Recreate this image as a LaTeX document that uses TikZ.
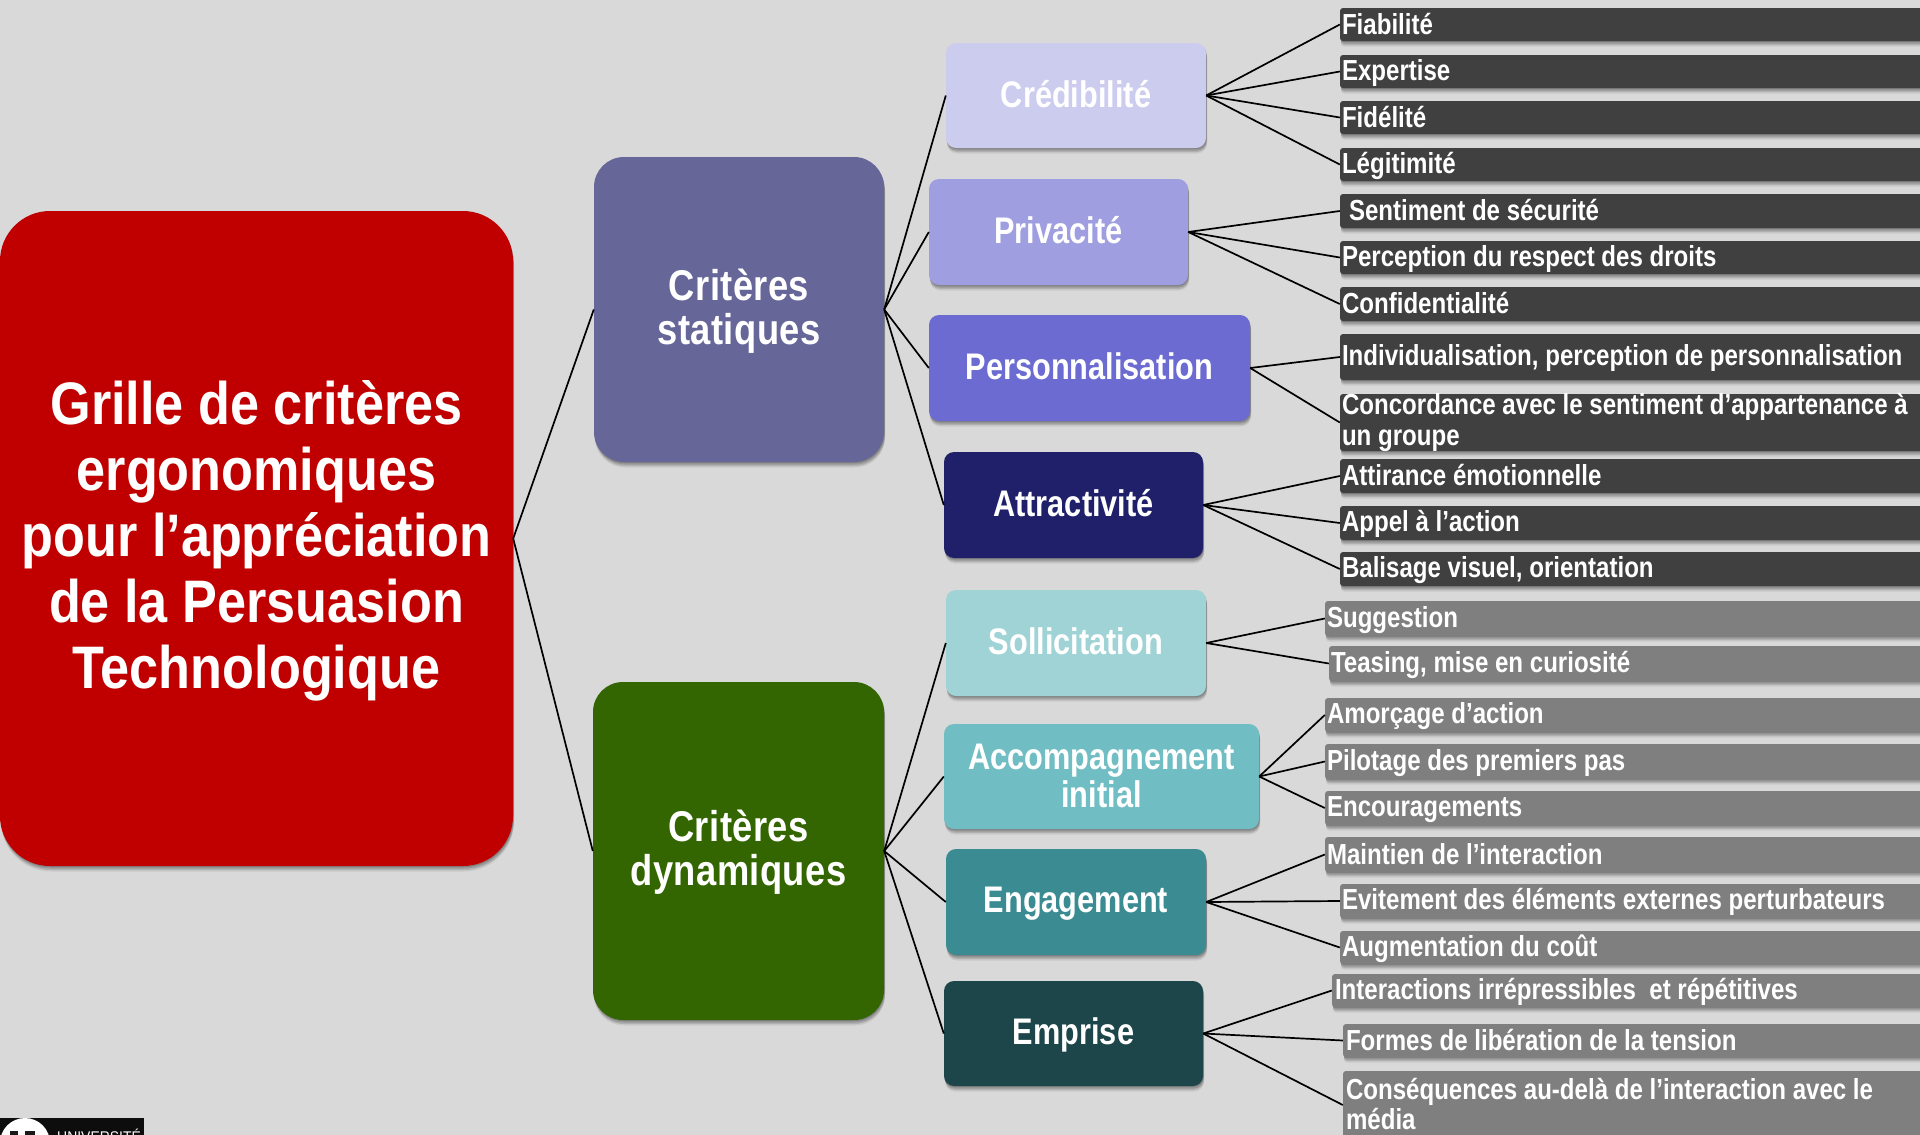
\documentclass[tikz,border=0pt]{standalone}
\usepackage{fontspec}
\setmainfont{Liberation Sans}
\newfontfamily\ftitle[FakeStretch=0.87]{Liberation Sans Bold}
\newfontfamily\fgroup[FakeStretch=0.845,LetterSpace=1.0]{Liberation Sans Bold}
\newfontfamily\fcrit[FakeStretch=0.83]{Liberation Sans Bold}
\newfontfamily\fbar[FakeStretch=0.83]{Liberation Sans Bold}
\newfontfamily\flogo[FakeStretch=0.9]{Liberation Sans}
\usetikzlibrary{shadows}
\definecolor{bgc}{HTML}{D9D9D9}
\definecolor{rootc}{HTML}{C00000}
\definecolor{statc}{HTML}{666699}
\definecolor{dync}{HTML}{336600}
\definecolor{cA}{HTML}{CCCCEE}
\definecolor{cB}{HTML}{9E9EE0}
\definecolor{cC}{HTML}{6B6BD1}
\definecolor{cD}{HTML}{20206A}
\definecolor{cE}{HTML}{9FD3D6}
\definecolor{cF}{HTML}{70BEC4}
\definecolor{cG}{HTML}{3A8C92}
\definecolor{cH}{HTML}{1C4649}
\definecolor{barD}{HTML}{404040}
\definecolor{barL}{HTML}{7F7F7F}
\tikzset{
  softshadow/.style={
    general shadow={shadow yshift=-1pt,shadow xshift=.5pt,fill=black,opacity=.14},
    general shadow={shadow yshift=-2.5pt,shadow xshift=.8pt,fill=black,opacity=.14},
    general shadow={shadow yshift=-4pt,shadow xshift=1pt,fill=black,opacity=.12},
    general shadow={shadow yshift=-5.5pt,shadow xshift=1pt,fill=black,opacity=.07}},
  box/.style={softshadow,text=white,inner sep=0pt},
  rootbox/.style={box,fill=rootc,rounded corners=50pt,font=\ftitle\fontsize{60}{66}\selectfont\def\st{\rule[-8.5pt]{0pt}{57.5pt}}},
  groupbox/.style={box,rounded corners=30pt,font=\fgroup\fontsize{43}{44}\selectfont\def\st{\rule[-4pt]{0pt}{38.4pt}}},
  critbox/.style={box,rounded corners=10pt,font=\fcrit\fontsize{37}{38}\selectfont\def\st{\rule[-5.2pt]{0pt}{34pt}}},
  barbox/.style={box,rounded corners=3pt,font=\fbar\fontsize{29}{30.5}\selectfont\def\st{\rule[-4.3pt]{0pt}{28pt}}},
  dbar/.style={barbox,fill=barD},
  lbar/.style={barbox,fill=barL},
  link/.style={draw=black,line width=1.7pt},
}
% name, x1, y1, x2, y2, style, text
\newcommand\bx[7]{\node[#6] (#1) at ({(#2+#4)/2},{(#3+#5)/2}) {\parbox[c][\dimexpr#5pt-#3pt\relax][c]{\dimexpr#4pt-#2pt\relax}{\centering\st #7}};}
% name, x1, y1, y2, inset, style, text  (bar running off the right edge)
\newcommand\br[7]{\node[#6] (#1) at ({(#2+1940)/2},{(#3+#4)/2}) {\parbox[c][\dimexpr#4pt-#3pt\relax][c]{\dimexpr1940pt-#2pt\relax}{\raggedright\leftskip=#5pt\st #7}};}
\begin{document}
\begin{tikzpicture}[x=1pt,y=-1pt]
\useasboundingbox (0,0) rectangle (1920,1135);
\clip (0,0) rectangle (1920,1135);
\fill[bgc] (0,0) rectangle (1920,1135);
% level 0 and 1
\bx{root}{0}{211}{513}{866}{rootbox}{Grille de critères\\\st ergonomiques\\\st pour l’appréciation\\\st de la Persuasion\\\st Technologique}
\bx{stat}{594}{157}{884}{462}{groupbox,fill=statc}{Critères\\\st statiques}
\bx{dyn}{593}{682}{884}{1020}{groupbox,fill=dync}{Critères\\\st dynamiques}
% level 2
\bx{cred}{946}{43}{1206}{148}{critbox,fill=cA}{Crédibilité}
\bx{priv}{929}{179}{1188}{285}{critbox,fill=cB}{Privacité}
\bx{pers}{929}{315}{1250}{421}{critbox,fill=cC}{Personnalisation}
\bx{attr}{944}{452}{1203}{558}{critbox,fill=cD}{Attractivité}
\bx{soll}{946}{590}{1206}{696}{critbox,fill=cE}{Sollicitation}
\bx{acco}{944}{724}{1259}{829}{critbox,fill=cF}{Accompagnement\\\st initial}
\bx{enga}{946}{849}{1206}{955}{critbox,fill=cG}{Engagement}
\bx{empr}{944}{981}{1203}{1086}{critbox,fill=cH}{Emprise}
% level 3, dark
\br{b1}{1340}{8}{41}{2}{dbar}{Fiabilité}
\br{b2}{1340}{55}{88}{2}{dbar}{Expertise}
\br{b3}{1340}{101}{134}{2}{dbar}{Fidélité}
\br{b4}{1340}{148}{181}{2}{dbar}{Légitimité}
\br{b5}{1340}{194}{228}{9}{dbar}{Sentiment de sécurité}
\br{b6}{1340}{241}{274}{2}{dbar}{Perception du respect des droits}
\br{b7}{1340}{287}{321}{2}{dbar}{Confidentialité}
\br{b8}{1340}{334}{380}{2}{dbar}{Individualisation, perception de personnalisation}
\br{b9}{1340}{394}{451}{2}{dbar}{Concordance avec le sentiment d’appartenance à\\\st un groupe\par\vspace{3pt}}
\br{b10}{1340}{459}{493}{2}{dbar}{Attirance émotionnelle}
\br{b11}{1340}{506}{540}{2}{dbar}{Appel à l’action}
\br{b12}{1340}{552}{586}{2}{dbar}{Balisage visuel, orientation}
% level 3, light
\br{g1}{1325}{601}{636}{2}{lbar}{Suggestion}
\br{g2}{1329}{646}{681}{2}{lbar}{Teasing, mise en curiosité}
\br{g3}{1325}{698}{732}{2}{lbar}{Amorçage d’action}
\br{g4}{1325}{744}{779}{2}{lbar}{Pilotage des premiers pas}
\br{g5}{1325}{791}{825}{2}{lbar}{Encouragements}
\br{g6}{1325}{837}{872}{2}{lbar}{Maintien de l’interaction}
\br{g7}{1340}{884}{918}{2}{lbar}{Evitement des éléments externes perturbateurs}
\br{g8}{1340}{931}{964}{2}{lbar}{Augmentation du coût}
\br{g9}{1332}{974}{1007}{3}{lbar}{Interactions irrépressibles\ \ et répétitives}
\br{g10}{1343}{1024}{1057}{3}{lbar}{Formes de libération de la tension}
\br{g11}{1343}{1071}{1139}{3}{lbar}{Conséquences au-delà de l’interaction avec le\\\st média}
% connectors
\foreach \a/\b in {root/stat,root/dyn,
  stat/cred,stat/priv,stat/pers,stat/attr,
  dyn/soll,dyn/acco,dyn/enga,dyn/empr,
  cred/b1,cred/b2,cred/b3,cred/b4,
  priv/b5,priv/b6,priv/b7,
  pers/b8,pers/b9,
  attr/b10,attr/b11,attr/b12,
  soll/g1,soll/g2,
  acco/g3,acco/g4,acco/g5,
  enga/g6,enga/g7,enga/g8,
  empr/g9,empr/g10,empr/g11}
  \draw[link] (\a.east) -- (\b.west);
% logo
\node[fill=black!95,minimum width=144pt,minimum height=17pt,inner sep=0pt] (logo) at (72,1126.5) {};
\fill[white] (25,1143) circle (25);
\fill[black!90] (10,1131) rectangle (18,1140);
\fill[black!90] (25,1131) rectangle (35,1140);
\node[text=white,anchor=base west,inner sep=0pt,font=\flogo\fontsize{15.5}{16}\selectfont] (logotext) at (57,1142) {UNIVERSITÉ};
\end{tikzpicture}
\end{document}
